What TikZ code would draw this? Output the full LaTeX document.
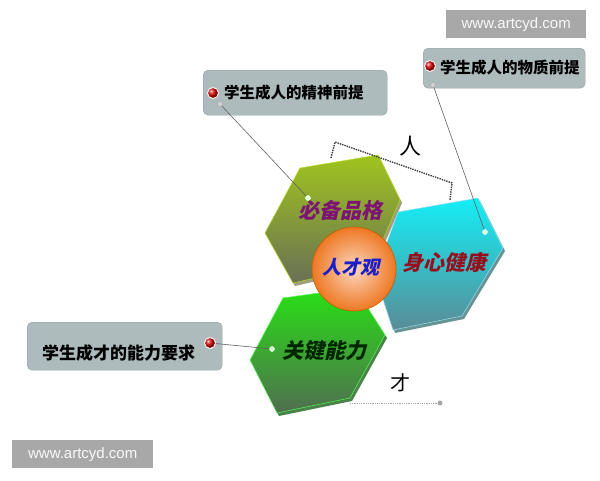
\documentclass[tikz,border=0pt]{standalone}
\usepackage{fontspec}
\newfontfamily\cjk{Noto Sans CJK SC}
\newfontfamily\cjksl[FakeSlant=0.22]{Noto Sans CJK SC}
\newfontfamily\wm{Liberation Sans}
\definecolor{boxgray}{RGB}{174,187,189}
\definecolor{wmgray}{RGB}{168,168,168}
\definecolor{oliveT}{RGB}{160,196,30}
\definecolor{oliveB}{RGB}{105,112,85}
\definecolor{cyanT}{RGB}{20,238,246}
\definecolor{cyanB}{RGB}{90,140,150}
\definecolor{greenT}{RGB}{40,225,20}
\definecolor{greenB}{RGB}{80,110,80}
\definecolor{txtpurple}{RGB}{125,20,115}
\definecolor{txtred}{RGB}{150,15,30}
\definecolor{txtblue}{RGB}{25,30,200}
\definecolor{ballIn}{RGB}{252,214,190}
\definecolor{ballOut}{RGB}{238,120,35}
\begin{document}
\begin{tikzpicture}[x=1pt,y=-1pt,
  callout/.style={rounded corners=5pt, fill=boxgray, draw=boxgray!85!black, line width=0.4pt, inner sep=0pt},
  lbl/.style={font=\cjk\bfseries\fontsize{15.5}{18}\selectfont, text=black, inner sep=0pt},
  hexlbl/.style={font=\cjksl\bfseries\fontsize{21}{24}\selectfont, inner sep=0pt},
  reddot/.style={circle, minimum size=11pt, inner sep=0pt, shading=ball, ball color=red!85!black, draw=white!75!pink, line width=1pt},
  graydot/.style={circle, minimum size=5pt, inner sep=0pt, fill=gray!35, draw=gray!70},
  hexdot/.style={circle, minimum size=5pt, inner sep=0pt, fill=green!15!white, draw=white},
  conn/.style={draw=gray!75!black, line width=0.6pt},
  wmbox/.style={fill=wmgray, text=white!95!gray, font=\wm\fontsize{15}{18}\selectfont, inner sep=0pt, minimum height=28pt},
]
\useasboundingbox (0,0) rectangle (600,480);
\fill[white] (0,0) rectangle (600,480);

% watermarks
\node[wmbox, minimum width=140pt, anchor=north west] (wm1) at (446,10) {www.artcyd.com};
\node[wmbox, minimum width=141pt, anchor=north west] (wm2) at (12,440) {www.artcyd.com};

% hexagon A (olive)
\fill[olive!60!black, opacity=0.6] (267,236) -- (302,171) -- (380,158) -- (402,203) -- (374,268) -- (295,286) -- cycle;
\shade[top color=oliveT, bottom color=oliveB, draw=yellow!70!green, line width=0.5pt]
  (265,233) -- (300,168) -- (378,155) -- (400,200) -- (372,265) -- (293,283) -- cycle;
% hexagon C (green)
\fill[green!30!black, opacity=0.7] (252,363) -- (285,301) -- (357,291) -- (387,338) -- (352,401) -- (279,416) -- cycle;
\shade[top color=greenT, bottom color=greenB, draw=green!70!white, line width=0.5pt]
  (250,360) -- (283,298) -- (355,288) -- (385,335) -- (350,398) -- (277,413) -- cycle;
% hexagon B (cyan)
\fill[teal!60!black, opacity=0.6] (377,278) -- (400,215) -- (480,201) -- (505,251) -- (464,319) -- (395,333) -- cycle;
\shade[top color=cyanT, bottom color=cyanB, draw=cyan!40!white, line width=0.5pt]
  (375,275) -- (398,212) -- (478,198) -- (503,248) -- (462,316) -- (393,330) -- cycle;

% centre ball
\node[circle, minimum size=84pt, inner sep=0pt, shading=radial, inner color=ballIn, outer color=ballOut, draw=orange!75!black, line width=0.6pt] (ball) at (354,269) {};
\node[hexlbl, text=txtblue, font=\cjksl\bfseries\fontsize{19}{22}\selectfont] (rcg) at (351,267) {人才观};

% hexagon labels
\node[hexlbl, text=txtpurple] (lA) at (340,210) {必备品格};
\node[hexlbl, text=txtred] (lB) at (444,262) {身心健康};
\node[hexlbl, text=black!85!green] (lC) at (324,351) {关键能力};

% hexagon dots
\node[hexdot] (hA) at (308,198) {};
\node[hexdot] (hB) at (485,232) {};
\node[hexdot] (hC) at (272,349) {};

% callout A
\node[callout, minimum width=184pt, minimum height=45pt, anchor=north west] (bA) at (203,70) {};
\node[lbl, anchor=west] (tA) at (224,93) {学生成人的精神前提};
\node[reddot] (rA) at (213,93) {};
\node[graydot] (gA) at (220,104) {};
% callout B
\node[callout, minimum width=162pt, minimum height=40pt, anchor=north west] (bB) at (423,48) {};
\node[lbl, anchor=west] (tB) at (440,68) {学生成人的物质前提};
\node[reddot] (rB) at (430,66) {};
\node[graydot] (gB) at (433,85) {};
% callout C
\node[callout, minimum width=195pt, minimum height=48pt, anchor=north west] (bC) at (27,322) {};
\node[lbl, anchor=west, font=\cjk\bfseries\fontsize{17}{20}\selectfont] (tC) at (42,353) {学生成才的能力要求};
\node[reddot] (rC) at (210,343) {};

% connectors
\draw[conn] (gA) -- (hA);
\draw[conn] (gB) -- (hB);
\draw[conn] (rC) -- (hC);

% bracket for 人
\coordinate (k1) at (331,158);
\coordinate (k2) at (335,142);
\coordinate (k3) at (452,183);
\coordinate (k4) at (450,200);
\draw[densely dotted, line width=1.4pt, black!75] (k1) -- (k2) -- (k3) -- (k4);
\node[font=\cjk\fontsize{22}{24}\selectfont, inner sep=0pt] (ren) at (410,146) {人};

% 才 line
\coordinate (c1) at (350,403);
\node[circle, minimum size=5pt, inner sep=0pt, fill=gray!70] (c2) at (440,403) {};
\draw[densely dotted, line width=0.8pt, gray!70] (c1) -- (c2);
\node[font=\cjk\fontsize{20}{22}\selectfont, inner sep=0pt] (cai) at (400,383) {才};
\end{tikzpicture}
\end{document}
